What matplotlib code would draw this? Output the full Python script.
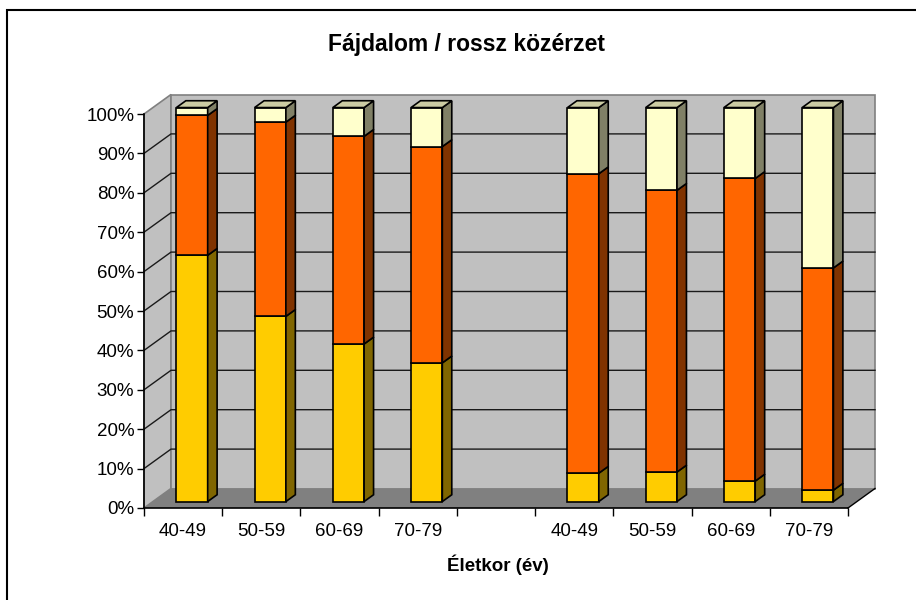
import numpy as np
import matplotlib
matplotlib.use("Agg")
import matplotlib.pyplot as plt
from matplotlib.patches import Polygon, Rectangle
from matplotlib.lines import Line2D

plt.rcParams['font.family'] = ['Liberation Sans', 'DejaVu Sans']

# Age groups (two blocks separated by an empty slot)
categories = ['40-49', '50-59', '60-69', '70-79', '', '40-49', '50-59', '60-69', '70-79']

# Percentage shares, stacked bottom to top (nan = empty slot)
share_bottom = [62.5, 47.0, 40.0, 35.2, np.nan, 7.2, 7.5, 5.2, 2.9]
share_middle = [35.5, 49.3, 52.7, 54.9, np.nan, 76.0, 71.5, 76.8, 56.4]
share_top = [2.0, 3.7, 7.3, 9.9, np.nan, 16.8, 21.0, 18.0, 40.7]

yticks = list(range(0, 101, 10))
title = 'Fájdalom / rossz közérzet'
xlabel = 'Életkor (év)'

# face colours: (front, side, top)
faces = [
    ('#FFCC00', '#806600', '#CCA300'),
    ('#FF6600', '#803300', '#CC5200'),
    ('#FFFFCC', '#808066', '#CCCCA3'),
]

W, H = 916, 600
fig = plt.figure(figsize=(W / 100, H / 100), dpi=100)
fig.patch.set_facecolor('white')

ax = fig.add_axes([144 / W, 92 / H, 704 / W, 394 / H])
n = len(categories)
ax.set_xlim(0, n)
ax.set_ylim(0, 100)
ax.patch.set_visible(False)
for s in ax.spines.values():
    s.set_visible(False)

# oblique depth of the 3D box, in data units
DX = 27 / (704 / n)
DY = 19.5 / 3.94

wall_c = '#C0C0C0'
edge_gray = '#808080'

# side wall and back wall
ax.add_patch(Polygon([(0, 0), (DX, DY), (DX, 100 + DY), (0, 100)], closed=True,
                     facecolor=wall_c, edgecolor=edge_gray, lw=1.2, zorder=1, clip_on=False))
ax.add_patch(Polygon([(DX, DY), (n + DX, DY), (n + DX, 100 + DY), (DX, 100 + DY)], closed=True,
                     facecolor=wall_c, edgecolor=edge_gray, lw=1.2, zorder=1, clip_on=False))

# gridlines on both walls
for v in yticks[1:-1]:
    ax.add_line(Line2D([0, DX, n + DX], [v, v + DY, v + DY], color='#1a1a1a', lw=1.0,
                       zorder=2, clip_on=False))

# floor
ax.add_patch(Polygon([(0, 0), (n, 0), (n + DX, DY), (DX, DY)], closed=True,
                     facecolor='#808080', edgecolor='none', zorder=3, clip_on=False))
ax.add_line(Line2D([n, n + DX], [0, DY], color='black', lw=1.0, zorder=3, clip_on=False))

# axes lines
ax.add_line(Line2D([0, 0], [0, 100], color='black', lw=1.2, zorder=4, clip_on=False))
ax.add_line(Line2D([0, n], [0, 0], color='black', lw=1.2, zorder=4, clip_on=False))

# bars
bw = 0.4
f0, f1 = 0.33, 0.68
ox0, oy0 = f0 * DX, f0 * DY
ddx, ddy = (f1 - f0) * DX, (f1 - f0) * DY
stack = [share_bottom, share_middle, share_top]
z = 5
for i in range(n):
    if np.isnan(share_bottom[i]):
        continue
    xl = i + 0.5 - bw / 2 + ox0
    xr = xl + bw
    base = 0.0
    for k, series in enumerate(stack):
        v = series[i]
        y0 = base + oy0
        y1 = base + v + oy0
        fc, sc, tc = faces[k]
        # front
        ax.add_patch(Polygon([(xl, y0), (xr, y0), (xr, y1), (xl, y1)], closed=True,
                             facecolor=fc, edgecolor='black', lw=1.2, zorder=z, clip_on=False))
        # side
        ax.add_patch(Polygon([(xr, y0), (xr + ddx, y0 + ddy), (xr + ddx, y1 + ddy), (xr, y1)],
                             closed=True, facecolor=sc, edgecolor='black', lw=1.2, zorder=z,
                             clip_on=False))
        base += v
        if k == len(stack) - 1:
            ax.add_patch(Polygon([(xl, y1), (xr, y1), (xr + ddx, y1 + ddy), (xl + ddx, y1 + ddy)],
                                 closed=True, facecolor=tc, edgecolor='black', lw=1.2,
                                 zorder=z, clip_on=False))
    z += 1

# ticks and labels
ax.set_yticks(yticks)
ax.set_yticklabels([f'{v}%' for v in yticks], fontsize=13.5)
ax.tick_params(axis='y', length=5, width=1, direction='out', pad=2)
ax.set_xticks(np.arange(n) + 0.5)
ax.set_xticklabels(categories, fontsize=13.5)
ax.tick_params(axis='x', which='major', length=0, pad=11)
ax.set_xticks(np.arange(n + 1), minor=True)
ax.tick_params(axis='x', which='minor', length=6, width=1, direction='out')

fig.text(467 / W, 1 - 45 / H, title, ha='center', va='center', fontsize=16.5, fontweight='bold')
fig.text(498 / W, 1 - 565 / H, xlabel, ha='center', va='center', fontsize=13.5, fontweight='bold')

# chart frame
fig.patches.append(Rectangle((7 / W, -0.1), 1.2, 1.1 - 10 / H, transform=fig.transFigure,
                             fill=False, edgecolor='black', lw=1.5))

fig.savefig('out.png', dpi=100)
